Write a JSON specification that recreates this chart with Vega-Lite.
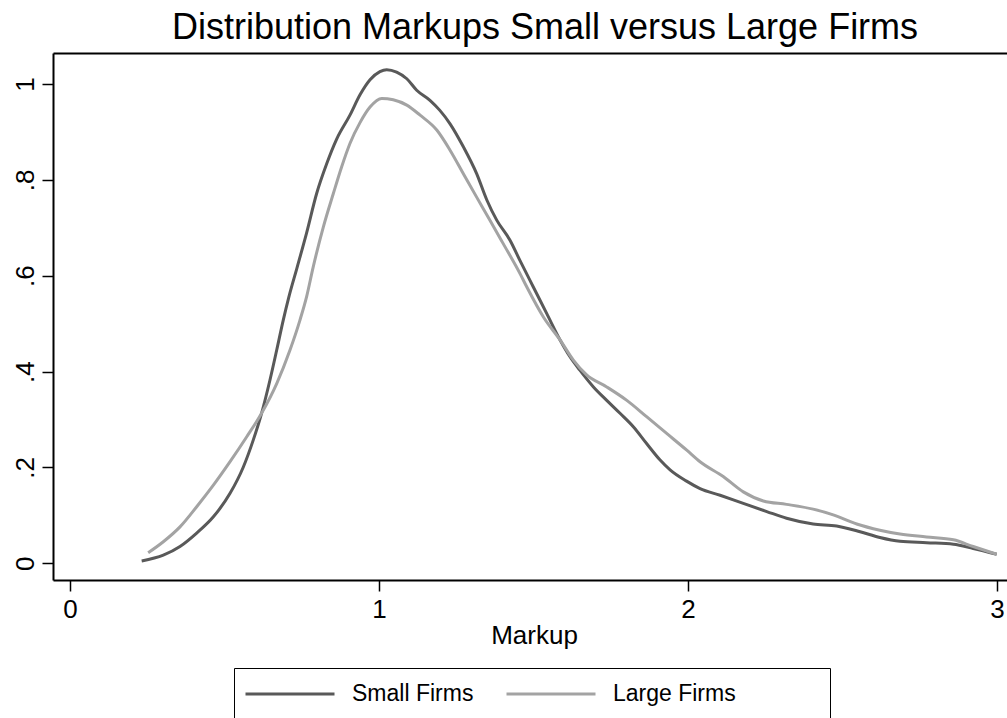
{
  "$schema": "https://vega.github.io/schema/vega-lite/v6.json",
  "width": 954,
  "height": 527,
  "autosize": {"type": "none"},
  "padding": {"left": 53, "top": 53, "right": 0, "bottom": 138},
  "background": "white",
  "config": {
    "font": "Liberation Sans",
    "view": {"stroke": null},
    "axis": {"grid": false, "domainColor": "black", "tickColor": "black", "labelColor": "black", "titleColor": "black", "labelFont": "Liberation Sans", "titleFont": "Liberation Sans", "titleFontWeight": "normal"}
  },
  "title": {
    "text": "Distribution Markups Small versus Large Firms",
    "fontSize": 36,
    "fontWeight": "normal",
    "font": "Liberation Sans",
    "color": "black",
    "anchor": "middle",
    "dx": 15,
    "offset": 6
  },
  "data": {
    "values": [
      {"firm": "Small Firms", "markup": 0.232, "density": 0.005},
      {"firm": "Small Firms", "markup": 0.302, "density": 0.017},
      {"firm": "Small Firms", "markup": 0.356, "density": 0.035},
      {"firm": "Small Firms", "markup": 0.410, "density": 0.063},
      {"firm": "Small Firms", "markup": 0.464, "density": 0.097},
      {"firm": "Small Firms", "markup": 0.518, "density": 0.146},
      {"firm": "Small Firms", "markup": 0.561, "density": 0.201},
      {"firm": "Small Firms", "markup": 0.593, "density": 0.257},
      {"firm": "Small Firms", "markup": 0.620, "density": 0.313},
      {"firm": "Small Firms", "markup": 0.647, "density": 0.382},
      {"firm": "Small Firms", "markup": 0.669, "density": 0.445},
      {"firm": "Small Firms", "markup": 0.690, "density": 0.507},
      {"firm": "Small Firms", "markup": 0.708, "density": 0.555},
      {"firm": "Small Firms", "markup": 0.734, "density": 0.615},
      {"firm": "Small Firms", "markup": 0.766, "density": 0.690},
      {"firm": "Small Firms", "markup": 0.798, "density": 0.771},
      {"firm": "Small Firms", "markup": 0.831, "density": 0.834},
      {"firm": "Small Firms", "markup": 0.863, "density": 0.885},
      {"firm": "Small Firms", "markup": 0.906, "density": 0.935},
      {"firm": "Small Firms", "markup": 0.939, "density": 0.978},
      {"firm": "Small Firms", "markup": 0.971, "density": 1.009},
      {"firm": "Small Firms", "markup": 1.003, "density": 1.026},
      {"firm": "Small Firms", "markup": 1.025, "density": 1.030},
      {"firm": "Small Firms", "markup": 1.057, "density": 1.025},
      {"firm": "Small Firms", "markup": 1.090, "density": 1.011},
      {"firm": "Small Firms", "markup": 1.122, "density": 0.987},
      {"firm": "Small Firms", "markup": 1.165, "density": 0.966},
      {"firm": "Small Firms", "markup": 1.197, "density": 0.945},
      {"firm": "Small Firms", "markup": 1.230, "density": 0.917},
      {"firm": "Small Firms", "markup": 1.273, "density": 0.869},
      {"firm": "Small Firms", "markup": 1.316, "density": 0.813},
      {"firm": "Small Firms", "markup": 1.349, "density": 0.758},
      {"firm": "Small Firms", "markup": 1.381, "density": 0.716},
      {"firm": "Small Firms", "markup": 1.424, "density": 0.674},
      {"firm": "Small Firms", "markup": 1.456, "density": 0.632},
      {"firm": "Small Firms", "markup": 1.499, "density": 0.577},
      {"firm": "Small Firms", "markup": 1.543, "density": 0.521},
      {"firm": "Small Firms", "markup": 1.586, "density": 0.466},
      {"firm": "Small Firms", "markup": 1.618, "density": 0.431},
      {"firm": "Small Firms", "markup": 1.650, "density": 0.403},
      {"firm": "Small Firms", "markup": 1.694, "density": 0.368},
      {"firm": "Small Firms", "markup": 1.737, "density": 0.340},
      {"firm": "Small Firms", "markup": 1.780, "density": 0.313},
      {"firm": "Small Firms", "markup": 1.823, "density": 0.285},
      {"firm": "Small Firms", "markup": 1.866, "density": 0.250},
      {"firm": "Small Firms", "markup": 1.909, "density": 0.216},
      {"firm": "Small Firms", "markup": 1.942, "density": 0.195},
      {"firm": "Small Firms", "markup": 1.994, "density": 0.172},
      {"firm": "Small Firms", "markup": 2.039, "density": 0.156},
      {"firm": "Small Firms", "markup": 2.104, "density": 0.142},
      {"firm": "Small Firms", "markup": 2.179, "density": 0.125},
      {"firm": "Small Firms", "markup": 2.255, "density": 0.108},
      {"firm": "Small Firms", "markup": 2.319, "density": 0.094},
      {"firm": "Small Firms", "markup": 2.405, "density": 0.082},
      {"firm": "Small Firms", "markup": 2.481, "density": 0.078},
      {"firm": "Small Firms", "markup": 2.557, "density": 0.066},
      {"firm": "Small Firms", "markup": 2.621, "density": 0.054},
      {"firm": "Small Firms", "markup": 2.686, "density": 0.046},
      {"firm": "Small Firms", "markup": 2.772, "density": 0.043},
      {"firm": "Small Firms", "markup": 2.859, "density": 0.040},
      {"firm": "Small Firms", "markup": 2.923, "density": 0.031},
      {"firm": "Small Firms", "markup": 2.999, "density": 0.019},
      {"firm": "Large Firms", "markup": 0.253, "density": 0.022},
      {"firm": "Large Firms", "markup": 0.302, "density": 0.045},
      {"firm": "Large Firms", "markup": 0.356, "density": 0.076},
      {"firm": "Large Firms", "markup": 0.410, "density": 0.118},
      {"firm": "Large Firms", "markup": 0.464, "density": 0.163},
      {"firm": "Large Firms", "markup": 0.518, "density": 0.212},
      {"firm": "Large Firms", "markup": 0.572, "density": 0.264},
      {"firm": "Large Firms", "markup": 0.620, "density": 0.313},
      {"firm": "Large Firms", "markup": 0.669, "density": 0.375},
      {"firm": "Large Firms", "markup": 0.712, "density": 0.445},
      {"firm": "Large Firms", "markup": 0.744, "density": 0.507},
      {"firm": "Large Firms", "markup": 0.766, "density": 0.557},
      {"firm": "Large Firms", "markup": 0.787, "density": 0.618},
      {"firm": "Large Firms", "markup": 0.820, "density": 0.702},
      {"firm": "Large Firms", "markup": 0.852, "density": 0.771},
      {"firm": "Large Firms", "markup": 0.879, "density": 0.827},
      {"firm": "Large Firms", "markup": 0.906, "density": 0.876},
      {"firm": "Large Firms", "markup": 0.939, "density": 0.920},
      {"firm": "Large Firms", "markup": 0.971, "density": 0.952},
      {"firm": "Large Firms", "markup": 1.009, "density": 0.970},
      {"firm": "Large Firms", "markup": 1.046, "density": 0.967},
      {"firm": "Large Firms", "markup": 1.090, "density": 0.956},
      {"firm": "Large Firms", "markup": 1.133, "density": 0.935},
      {"firm": "Large Firms", "markup": 1.187, "density": 0.904},
      {"firm": "Large Firms", "markup": 1.230, "density": 0.862},
      {"firm": "Large Firms", "markup": 1.273, "density": 0.813},
      {"firm": "Large Firms", "markup": 1.316, "density": 0.764},
      {"firm": "Large Firms", "markup": 1.359, "density": 0.716},
      {"firm": "Large Firms", "markup": 1.402, "density": 0.667},
      {"firm": "Large Firms", "markup": 1.456, "density": 0.605},
      {"firm": "Large Firms", "markup": 1.478, "density": 0.577},
      {"firm": "Large Firms", "markup": 1.532, "density": 0.514},
      {"firm": "Large Firms", "markup": 1.586, "density": 0.466},
      {"firm": "Large Firms", "markup": 1.629, "density": 0.424},
      {"firm": "Large Firms", "markup": 1.672, "density": 0.393},
      {"firm": "Large Firms", "markup": 1.737, "density": 0.368},
      {"firm": "Large Firms", "markup": 1.802, "density": 0.340},
      {"firm": "Large Firms", "markup": 1.866, "density": 0.306},
      {"firm": "Large Firms", "markup": 1.931, "density": 0.271},
      {"firm": "Large Firms", "markup": 1.996, "density": 0.236},
      {"firm": "Large Firms", "markup": 2.039, "density": 0.212},
      {"firm": "Large Firms", "markup": 2.114, "density": 0.181},
      {"firm": "Large Firms", "markup": 2.179, "density": 0.149},
      {"firm": "Large Firms", "markup": 2.244, "density": 0.130},
      {"firm": "Large Firms", "markup": 2.319, "density": 0.123},
      {"firm": "Large Firms", "markup": 2.405, "density": 0.113},
      {"firm": "Large Firms", "markup": 2.470, "density": 0.101},
      {"firm": "Large Firms", "markup": 2.546, "density": 0.082},
      {"firm": "Large Firms", "markup": 2.621, "density": 0.069},
      {"firm": "Large Firms", "markup": 2.686, "density": 0.061},
      {"firm": "Large Firms", "markup": 2.772, "density": 0.055},
      {"firm": "Large Firms", "markup": 2.859, "density": 0.049},
      {"firm": "Large Firms", "markup": 2.923, "density": 0.035},
      {"firm": "Large Firms", "markup": 2.999, "density": 0.019}
    ]
  },
  "resolve": {"axis": {"x": "independent"}},
  "layer": [
    {
      "mark": {"type": "line", "strokeWidth": 3, "interpolate": "monotone"},
      "encoding": {
        "x": {
          "field": "markup",
          "type": "quantitative",
          "scale": {"domain": [-0.055, 3.0324], "nice": false, "zero": false},
          "axis": {
            "title": "Markup",
            "values": [0, 1, 2, 3],
            "format": "d",
            "domainWidth": 2,
            "tickWidth": 1.5,
            "tickSize": 11,
            "labelFontSize": 26,
            "labelPadding": 5,
            "titleFontSize": 26,
            "titlePadding": 0,
            "titleX": 481,
            "labelFlush": false
          }
        },
        "y": {
          "field": "density",
          "type": "quantitative",
          "scale": {"domain": [-0.0348, 1.0647], "nice": false, "zero": false},
          "axis": {
            "title": null,
            "values": [0, 0.2, 0.4, 0.6, 0.8, 1],
            "labelExpr": "datum.value == 0 ? '0' : datum.value == 1 ? '1' : replace(format(datum.value, '.1f'), '0.', '.')",
            "domainWidth": 2,
            "tickWidth": 1.5,
            "tickSize": 11,
            "labelFontSize": 26,
            "labelAngle": 270,
            "labelAlign": "center",
            "labelBaseline": "bottom",
            "labelPadding": 4,
            "labelFlush": false
          }
        },
        "color": {
          "field": "firm",
          "type": "nominal",
          "scale": {"domain": ["Small Firms", "Large Firms"], "range": ["#595959", "#a3a3a3"]},
          "legend": {
            "title": " ",
            "titleOrient": "right",
            "titlePadding": 84,
            "titleFontSize": 23,
            "orient": "none",
            "legendX": 181,
            "legendY": 615,
            "direction": "horizontal",
            "symbolType": "stroke",
            "symbolSize": 7921,
            "symbolStrokeWidth": 3,
            "clipHeight": 32,
            "labelFontSize": 23,
            "labelFont": "Liberation Sans",
            "labelColor": "black",
            "labelOffset": 16,
            "columnPadding": 31,
            "padding": 10,
            "strokeColor": "black",
            "fillColor": "white"
          }
        }
      }
    },
    {
      "mark": {"type": "line", "opacity": 0},
      "encoding": {
        "x": {
          "field": "markup",
          "type": "quantitative",
          "axis": {"orient": "top", "title": null, "labels": false, "ticks": false, "domain": true, "domainWidth": 2}
        },
        "y": {"field": "density", "type": "quantitative"},
        "detail": {"field": "firm"}
      }
    }
  ]
}
